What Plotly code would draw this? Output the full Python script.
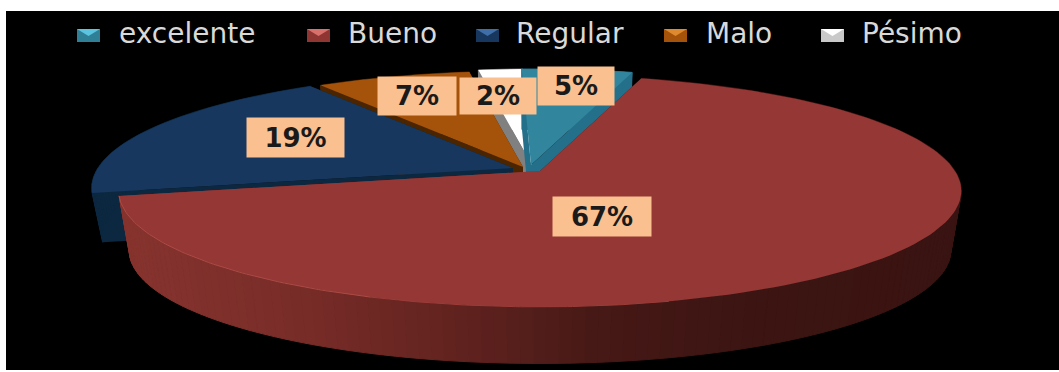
import numpy as np
import plotly.graph_objects as go

# Survey results
categories = ["excelente", "Bueno", "Regular", "Malo", "Pésimo"]
values = [5, 67, 19, 7, 2]
value_labels = ["5%", "67%", "19%", "7%", "2%"]

# Slice styling, in the same order as the categories
top_colors = ["#31859c", "#953735", "#17375e", "#a5530a", "#ffffff"]
face_colors = ["#24708a", "#3b1412", "#0c2840", "#4a2500", "#808080"]
swatch_base = ["#2f7f96", "#8f3532", "#17375e", "#a5530a", "#c9c9c9"]
swatch_light = ["#5cc4e0", "#d8706c", "#3f6ea8", "#e08a30", "#ffffff"]

# Hub of each exploded slice on the page, and the visible thickness of its wall
hubs = [(531, 165), (540, 171), (513, 168), (523, 167), (532, 165)]
depths = [58, 60, 50, 58, 58]

# Projection of the tilted disc
RADIUS = 415
FLATTEN = 112.5
PERSPECTIVE = 0.172
ROTATION = -1.5
LOWER_SCALE = 0.975

W, H = 1059, 372


def project(theta_deg, hub, depth=0, lower=False):
    """Map a clockwise-from-north angle on the disc to page coordinates."""
    t = np.radians(theta_deg)
    u, v = np.sin(t), np.cos(t)
    s = 1 / (1 + PERSPECTIVE * v)
    k = LOWER_SCALE if lower else 1.0
    x = hub[0] + RADIUS * u * s * k
    y = hub[1] - FLATTEN * v * s * k + (depth if lower else 0)
    return x, y


def polygon(xs, ys, color, edge=0.0):
    return go.Scatter(
        x=list(xs) + [xs[0]], y=list(ys) + [ys[0]],
        mode="lines", fill="toself", fillcolor=color,
        line=dict(color=color, width=edge),
        hoverinfo="skip", showlegend=False,
    )


def side_shade(x):
    """Shading of the rim of the large slice, lit from the left."""
    stops = [130, 300, 440, 600, 750, 960]
    reds = [134, 120, 100, 70, 60, 58]
    greens = [51, 44, 36, 24, 21, 20]
    blues = [46, 40, 32, 22, 18, 18]
    return "rgb({:.0f},{:.0f},{:.0f})".format(
        np.interp(x, stops, reds), np.interp(x, stops, greens), np.interp(x, stops, blues)
    )


fig = go.Figure()

# Angular span of each slice
cum = np.cumsum([0] + values) * 3.6 + ROTATION
spans = [(cum[i], cum[i + 1]) for i in range(len(values))]

# Painter's order: back slices first, the large front slice last
for i in [4, 0, 3, 2, 1]:
    a0, a1 = spans[i]
    hub = hubs[i]
    depth = depths[i]

    # Cut faces on both sides of the wedge
    for a in (a0, a1):
        px, py = project(a, hub)
        lx, ly = project(a, hub, depth, lower=True)
        hx, hy = hub
        color = side_shade(px) if i == 1 else face_colors[i]
        fig.add_trace(polygon([hx, px, lx, hx], [hy, py, ly, hy + depth], color))

    # Rim of the slice, split into strips so it can be shaded
    n = max(int((a1 - a0) / 1.5), 2)
    steps = np.linspace(a0, a1, n + 1)
    for s0, s1 in zip(steps[:-1], steps[1:]):
        x0, y0 = project(s0, hub)
        x1, y1 = project(s1, hub)
        x2, y2 = project(s1, hub, depth, lower=True)
        x3, y3 = project(s0, hub, depth, lower=True)
        color = side_shade((x0 + x1) / 2) if i == 1 else face_colors[i]
        fig.add_trace(polygon([x0, x1, x2, x3], [y0, y1, y2, y3], color, edge=1))

    # Top surface
    arc = np.linspace(a0, a1, 160)
    ax, ay = project(arc, hub)
    fig.add_trace(polygon([hub[0], *ax], [hub[1], *ay], top_colors[i]))

    # Thin highlight along the lit front edge, fading towards the shaded side
    if i == 1:
        for start, end, tint in [(165, 200, "#9c3c39"), (200, a1, "#ac4a44")]:
            front = np.linspace(start, end, 60)
            fx, fy = project(front, hub)
            fig.add_trace(go.Scatter(x=fx, y=fy, mode="lines", line=dict(color=tint, width=1),
                                     hoverinfo="skip", showlegend=False))

# Legend swatches: a flat square with a lighter bevel on top
swatch_left = [77, 307, 476, 664, 821]
for left, base, light in zip(swatch_left, swatch_base, swatch_light):
    fig.add_trace(polygon([left, left + 23, left + 23, left], [29, 29, 42, 42], base))
    fig.add_trace(polygon([left, left + 23, left + 11.5], [29, 29, 36], light))

text_centers = [187, 392, 570, 739, 912]
annotations = [
    dict(x=cx, y=33, text=name, showarrow=False, xanchor="center", yanchor="middle",
         font=dict(family="DejaVu Sans", size=28, color="#d9d9d9"))
    for cx, name in zip(text_centers, categories)
]

# Percentage tags, each with its own filled box: (centre x, centre y, width, height)
tag_boxes = [(576, 86, 74, 36), (602, 216, 96, 37), (295, 137, 95, 37), (417, 96, 76, 36), (498, 96, 74, 34)]
for (cx, cy, bw, bh), label in zip(tag_boxes, value_labels):
    annotations.append(dict(
        x=cx, y=cy, text=f"<b>{label}</b>", showarrow=False, xanchor="center", yanchor="middle",
        width=bw, height=bh, bgcolor="#fac090", align="center", valign="middle",
        font=dict(family="DejaVu Sans", size=26, color="#1a1a1a"),
    ))

fig.update_layout(
    width=W, height=H, margin=dict(l=0, r=0, t=0, b=0),
    paper_bgcolor="#ffffff", plot_bgcolor="#ffffff", showlegend=False,
    xaxis=dict(range=[0, W], visible=False, fixedrange=True),
    yaxis=dict(range=[H, 0], visible=False, fixedrange=True),
    annotations=annotations,
    shapes=[dict(type="rect", xref="x", yref="y", x0=6, x1=W, y0=11, y1=370,
                 fillcolor="#000000", line=dict(width=0), layer="below")],
)

fig.write_html("out.html", config={"displayModeBar": False})
